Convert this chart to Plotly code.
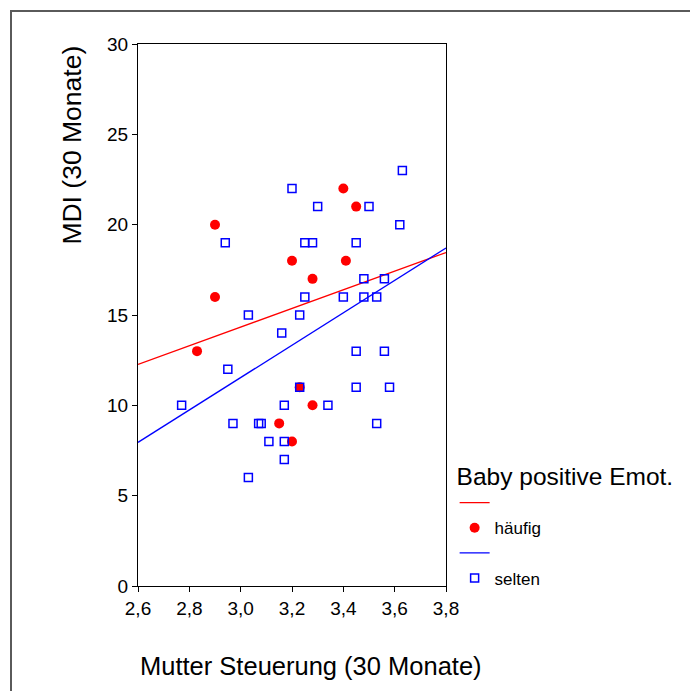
import plotly.graph_objects as go

# Data
red_x = [2.83, 2.90, 2.90, 3.20, 3.28, 3.40, 3.45, 3.41, 3.23, 3.15, 3.28, 3.20]
red_y = [13, 20, 16, 18, 17, 22, 21, 18, 11, 9, 10, 8]

blue_x = [2.77, 2.94, 2.95, 2.97, 3.03, 3.03, 3.07, 3.08, 3.11, 3.16, 3.17, 3.17,
          3.17, 3.20, 3.23, 3.23, 3.25, 3.28, 3.25, 3.30, 3.34, 3.40, 3.45, 3.45,
          3.45, 3.48, 3.48, 3.50, 3.53, 3.53, 3.56, 3.56, 3.58, 3.62, 3.63]
blue_y = [10, 19, 12, 9, 15, 6, 9, 9, 8, 14, 10, 8,
          7, 22, 15, 11, 19, 19, 16, 21, 10, 16, 19, 13,
          11, 17, 16, 21, 16, 9, 17, 13, 11, 20, 23]

fit_x = [2.6, 3.8]
red_fit_y = [12.27, 18.46]
blue_fit_y = [7.95, 18.71]

x_ticks = [2.6, 2.8, 3.0, 3.2, 3.4, 3.6, 3.8]
y_ticks = [0, 5, 10, 15, 20, 25, 30]

RED = "#ff0000"
BLUE = "#0000ff"
FONT = "Liberation Sans, Arial, sans-serif"

fig = go.Figure()
fig.add_trace(go.Scatter(x=fit_x, y=red_fit_y, mode="lines", name="",
                         line=dict(color=RED, width=1.3)))
fig.add_trace(go.Scatter(x=red_x, y=red_y, mode="markers", name="häufig",
                         marker=dict(color=RED, size=10, symbol="circle",
                                     line=dict(width=0))))
fig.add_trace(go.Scatter(x=fit_x, y=blue_fit_y, mode="lines", name=" ",
                         line=dict(color=BLUE, width=1.3)))
fig.add_trace(go.Scatter(x=blue_x, y=blue_y, mode="markers", name="selten",
                         marker=dict(color=BLUE, size=8, symbol="square-open",
                                     line=dict(width=1.5, color=BLUE))))

axis_common = dict(showgrid=False, zeroline=False, showline=True, mirror=True,
                   linecolor="black", linewidth=1, ticks="outside", ticklen=5,
                   tickcolor="black", tickwidth=1,
                   tickfont=dict(family=FONT, size=19, color="black"))

fig.update_xaxes(range=[2.6, 3.8], tickvals=x_ticks, tickformat=".1f", **axis_common)
fig.update_yaxes(range=[0, 30], tickvals=y_ticks, **axis_common)

fig.update_layout(
    width=690, height=691, autosize=False,
    margin=dict(l=138, r=244, t=44, b=105),
    paper_bgcolor="white", plot_bgcolor="white",
    separators=",.",
    font=dict(family=FONT, color="black"),
    showlegend=True,
    legend=dict(
        x=1.028, xanchor="left", y=0.245, yanchor="top",
        title=dict(text="Baby positive Emot.", font=dict(family=FONT, size=24.5)),
        font=dict(family=FONT, size=17),
        tracegroupgap=0, bgcolor="rgba(0,0,0,0)", borderwidth=0,
    ),
    annotations=[
        dict(text="MDI (30 Monate)", xref="paper", yref="paper",
             x=(71.7 - 138) / 308, y=(586.5 - 145) / 542.5, textangle=-90,
             xanchor="center", yanchor="middle", showarrow=False,
             font=dict(family=FONT, size=26.5, color="black")),
        dict(text="Mutter Steuerung (30 Monate)", xref="paper", yref="paper",
             x=(311 - 138) / 308, y=(586.5 - 667) / 542.5,
             xanchor="center", yanchor="middle", showarrow=False,
             font=dict(family=FONT, size=25.5, color="black")),
    ],
    shapes=[
        dict(type="rect", xref="paper", yref="paper",
             x0=(11 - 138) / 308, x1=3, y0=-2, y1=(586.5 - 11) / 542.5,
             line=dict(color="#5a5a5a", width=2), fillcolor="rgba(0,0,0,0)",
             layer="below"),
    ],
)

fig.write_html("out.html")
